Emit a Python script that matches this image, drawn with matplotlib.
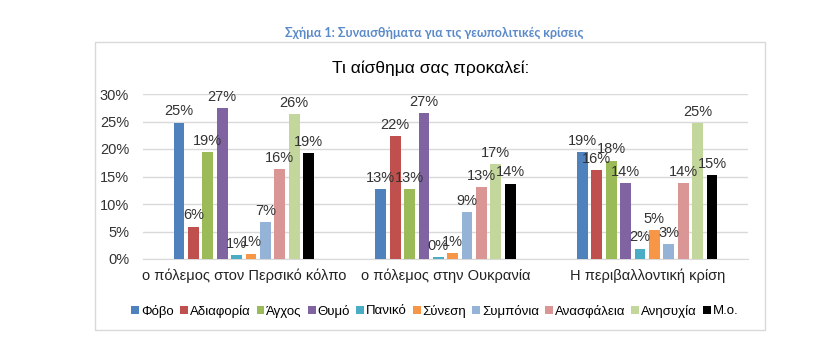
import matplotlib
matplotlib.use("Agg")
import matplotlib.pyplot as plt
from matplotlib.patches import Rectangle
import numpy as np

plt.rcParams['font.family'] = ['Liberation Sans Narrow', 'Liberation Sans', 'DejaVu Sans']

categories = ["ο πόλεμος στον Περσικό κόλπο", "ο πόλεμος στην Ουκρανία", "Η περιβαλλοντική κρίση"]
series_names = ["Φόβο", "Αδιαφορία", "Άγχος", "Θυμό", "Πανικό", "Σύνεση",
                "Συμπόνια", "Ανασφάλεια", "Ανησυχία", "Μ.ο."]
fovo       = [24.8, 12.7, 19.4]
adiaforia  = [5.9, 22.4, 16.1]
agxos      = [19.4, 12.7, 17.9]
thymo      = [27.4, 26.6, 13.8]
paniko     = [0.7, 0.4, 1.9]
synesi     = [1.0, 1.1, 5.3]
sympnoia   = [6.7, 8.6, 2.7]
anasfaleia = [16.4, 13.1, 13.8]
anisyxia   = [26.3, 17.2, 24.7]
mo         = [19.2, 13.7, 15.2]
series_values = [fovo, adiaforia, agxos, thymo, paniko, synesi,
                 sympnoia, anasfaleia, anisyxia, mo]
colors = ["#4F81BD", "#C0504D", "#9BBB59", "#8064A2", "#4BACC6", "#F79646",
          "#95B3D7", "#D99694", "#C3D69B", "#000000"]
yticks = [0, 5, 10, 15, 20, 25, 30]

fig = plt.figure(figsize=(8.23, 3.56), dpi=100)
fig.patch.set_facecolor("white")

# chart frame
fig.patches.append(Rectangle((95/823, 26/356), 670/823, 288/356, transform=fig.transFigure,
                             facecolor="none", edgecolor="#D9D9D9", linewidth=1.0, zorder=0))

fig.text(434/823, 1 - 33/356, "Σχήμα 1: Συναισθήματα για τις γεωπολιτικές κρίσεις",
         ha="center", va="center", fontsize=9, fontweight="bold",
         color="#5B8AC8", family=["Lato", "DejaVu Sans"])
fig.text(431/823, 1 - 68/356, "Τι αίσθημα σας προκαλεί:", ha="center", va="center",
         fontsize=12.5, color="#000000")

ax = fig.add_axes([143/823, 97/356, 605/823, 165/356])
ax.set_facecolor("none")

n = len(series_names)
x = np.arange(len(categories))
group_w = 0.714
slot = group_w / n
bw = slot * 0.75
for i, (name, vals, c) in enumerate(zip(series_names, series_values, colors)):
    pos = x - group_w/2 + slot*(i + 0.5)
    bars = ax.bar(pos, vals, width=bw, color=c, label=name, zorder=3)
    for b, v in zip(bars, vals):
        ax.annotate(f"{round(v)}%", (b.get_x() + b.get_width()/2, v),
                    xytext=(0, 3), textcoords="offset points",
                    ha="center", va="bottom", fontsize=10.5, color="#333333", zorder=4)

ax.set_xlim(-0.5, len(categories) - 0.5)
ax.set_ylim(0, 30)
ax.set_yticks(yticks)
ax.set_yticklabels([f"{t}%" for t in yticks], fontsize=10.5, color="#333333")
ax.set_xticks(x)
ax.set_xticklabels(categories, fontsize=10.5, color="#222222")
ax.tick_params(axis="both", length=0)
ax.tick_params(axis="y", pad=10)
ax.tick_params(axis="x", pad=7)
ax.grid(axis="y", color="#D9D9D9", linewidth=1.0, zorder=0)
ax.set_axisbelow(True)
for s in ["top", "right", "left"]:
    ax.spines[s].set_visible(False)
ax.spines["bottom"].set_color("#D9D9D9")

handles, labels = ax.get_legend_handles_labels()
fig.legend(handles, labels, loc="center", bbox_to_anchor=(435/823, 45/356), ncol=10,
           frameon=False, fontsize=9.5, handlelength=0.6, handleheight=0.6,
           handletextpad=0.15, columnspacing=0.45, borderaxespad=0)

fig.savefig("out.png", dpi=100)
